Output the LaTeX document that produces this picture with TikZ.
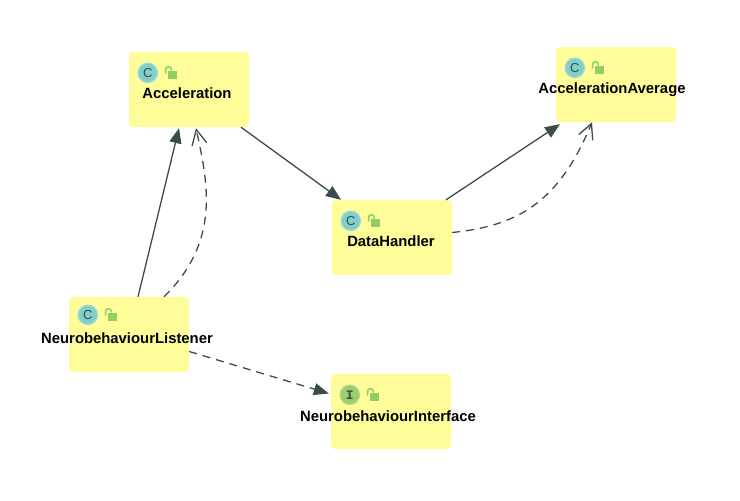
\documentclass[tikz,border=0pt]{standalone}
\usepackage{fontspec}
\setmainfont{Liberation Sans}
\setmonofont{Liberation Mono}
\usetikzlibrary{arrows.meta, positioning}
\definecolor{boxyellow}{HTML}{FEFD99}
\definecolor{edgegrey}{HTML}{3A4D4D}
\definecolor{classteal}{HTML}{82CEC8}
\definecolor{classring}{HTML}{A3DBD6}
\definecolor{ifacegreen}{HTML}{9BCF6B}
\definecolor{ifacering}{HTML}{B5DD90}
\definecolor{lockgreen}{HTML}{91CF66}

\begin{document}
\begin{tikzpicture}[
x=1pt, y=1pt,
block/.style={rectangle, rounded corners=4pt, fill=boxyellow, minimum width=120pt, minimum height=75pt, inner sep=0pt},
classname/.style={font=\bfseries\fontsize{14.85}{16}\selectfont, text=black, inner sep=0pt, text depth=0pt},
badge/.style={circle, inner sep=0pt, minimum size=19.5pt, line width=1.2pt, text=edgegrey},
badge-class/.style={badge, fill=classteal, draw=classring, font=\fontsize{13}{13}\selectfont},
badge-iface/.style={badge, fill=ifacegreen, draw=ifacering, font=\ttfamily\bfseries\fontsize{13}{13}\selectfont},
padlock/.style={rectangle, fill=lockgreen, inner sep=0pt, minimum width=8.5pt, minimum height=8pt},
line/.style={draw=edgegrey, line width=1.3pt},
solid-line/.style={line, -{Triangle[length=15pt, width=12pt]}},
dash-line/.style={line, dash pattern=on 8pt off 6pt, -{Straight Barb[length=15pt, width=15pt, line width=1.3pt]}},
dash-solid/.style={line, dash pattern=on 8pt off 6pt, -{Triangle[length=15pt, width=12pt]}},
shackle/.style={draw=lockgreen, line width=1.6pt}
]
\useasboundingbox (0,0) rectangle (740,-501);

\node [block] (acc) at (189,-89.5) {};
\node [block] (avg) at (616,-84.5) {};
\node [block] (dh) at (392,-237.5) {};
\node [block] (nl) at (129,-334.5) {};
\node [block] (ni) at (391,-411.5) {};

\node [classname] (acc-name) at (187,-93) {Acceleration};
\node [classname] (avg-name) at (612,-88) {AccelerationAverage};
\node [classname] (dh-name) at (391,-241) {DataHandler};
\node [classname] (nl-name) at (127,-338) {NeurobehaviourListener};
\node [classname] (ni-name) at (388,-416) {NeurobehaviourInterface};

\node [badge-class] (acc-badge) at ([xshift=19pt, yshift=-21pt]acc.north west) {C};
\node [badge-class] (avg-badge) at ([xshift=19pt, yshift=-21pt]avg.north west) {C};
\node [badge-class] (dh-badge) at ([xshift=19pt, yshift=-21pt]dh.north west) {C};
\node [badge-class] (nl-badge) at ([xshift=19pt, yshift=-18pt]nl.north west) {C};
\node [badge-iface] (ni-badge) at ([xshift=19pt, yshift=-21pt]ni.north west) {I};

% open padlocks beside the badges
\foreach \b in {acc, avg, dh, nl, ni} {
  \node [padlock] (\b-lock) at ([xshift=24.5pt, yshift=-2pt]\b-badge.center) {};
  \draw [shackle] ([xshift=-2.3pt, yshift=-3pt]\b-lock.north west) -- ++(0,4pt) arc (180:0:2.9pt) -- ++(0,-1pt);
}

\draw [solid-line] ([xshift=9pt]nl.north) -- ([xshift=-10pt, yshift=-1pt]acc.south);
\draw [dash-line] ([xshift=35pt]nl.north) .. controls (222,-240) and (207,-180) .. ([xshift=7pt, yshift=-1pt]acc.south);
\draw [solid-line] ([xshift=52pt]acc.south) -- ([xshift=-51pt]dh.north);
\draw [solid-line] ([xshift=54pt]dh.north) -- ([xshift=-56pt, yshift=-2pt]avg.south);
\draw [dash-line] ([yshift=5pt]dh.east) .. controls (515,-226) and (558,-205) .. ([xshift=-24pt]avg.south);
\draw [dash-solid] ([yshift=-17pt]nl.east) -- ([xshift=-2pt, yshift=18pt]ni.west);

\end{tikzpicture}
\end{document}
